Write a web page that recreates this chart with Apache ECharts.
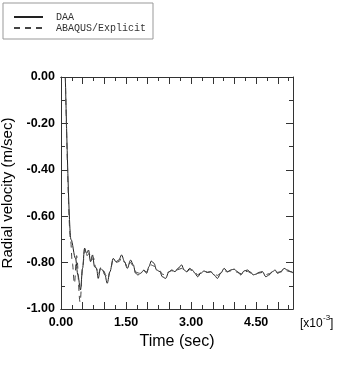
<!DOCTYPE html>
<html>
<head>
<meta charset="utf-8">
<script src="https://cdn.jsdelivr.net/npm/echarts@6/dist/echarts.min.js"></script>
<style>
html,body{margin:0;padding:0;background:#fff;}
#chart{width:349px;height:383px;}
</style>
</head>
<body>
<div id="chart"></div>
<script>
// DAA (solid)
var timeDAA = [0.10,0.23,0.335,0.389,0.45,0.497,0.543,0.589,0.635,0.681,0.727,0.774,0.82,0.858,0.912,0.958,1.012,1.066,1.128,1.205,1.266,1.335,1.397,1.466,1.528,1.605,1.667,1.72,1.774,1.836,1.913,1.974,2.028,2.082,2.144,2.205,2.282,2.336,2.413,2.49,2.552,2.629,2.698,2.783,2.837,2.898,2.967,3.029,3.09,3.152,3.222,3.299,3.376,3.453,3.53,3.607,3.684,3.761,3.838,3.915,3.992,4.069,4.146,4.223,4.3,4.377,4.431,4.492,4.569,4.646,4.723,4.8,4.877,4.938,4.992,5.069,5.146,5.223,5.3,5.35];
var velDAA = [0.0,-0.70,-0.782,-0.853,-0.918,-0.825,-0.738,-0.76,-0.746,-0.796,-0.767,-0.818,-0.825,-0.868,-0.825,-0.832,-0.853,-0.889,-0.839,-0.782,-0.796,-0.789,-0.767,-0.796,-0.825,-0.789,-0.81,-0.846,-0.853,-0.846,-0.832,-0.846,-0.818,-0.793,-0.803,-0.832,-0.839,-0.861,-0.868,-0.839,-0.832,-0.839,-0.825,-0.81,-0.832,-0.839,-0.825,-0.832,-0.846,-0.861,-0.846,-0.836,-0.842,-0.839,-0.853,-0.868,-0.846,-0.825,-0.839,-0.832,-0.828,-0.839,-0.853,-0.836,-0.832,-0.842,-0.853,-0.85,-0.842,-0.839,-0.861,-0.853,-0.839,-0.832,-0.846,-0.839,-0.825,-0.832,-0.839,-0.845];
// ABAQUS/Explicit (dashed)
var timeABQ = [0.10,0.22,0.26,0.31,0.36,0.44,0.50,0.55,0.60,0.65,0.70,0.75,0.80,0.86,0.92,0.98,1.04,1.08,1.13,1.20,1.27,1.34,1.40,1.47,1.53,1.60,1.67,1.72,1.78,1.84,1.91,1.97,2.03,2.08,2.14,2.21,2.28,2.34,2.41,2.49,2.55,2.63,2.70,2.78,2.84,2.90,2.97,3.03,3.09,3.15,3.22,3.30,3.38,3.45,3.53,3.61,3.68,3.76,3.84,3.92,3.99,4.07,4.15,4.22,4.30,4.38,4.43,4.49,4.57,4.65,4.72,4.80,4.88,4.94,4.99,5.07,5.15,5.22,5.30,5.35];
var velABQ = [0.0,-0.70,-0.80,-0.89,-0.77,-0.97,-0.82,-0.74,-0.77,-0.76,-0.79,-0.78,-0.82,-0.85,-0.82,-0.835,-0.855,-0.87,-0.84,-0.79,-0.80,-0.795,-0.78,-0.80,-0.82,-0.80,-0.815,-0.84,-0.845,-0.84,-0.835,-0.84,-0.825,-0.81,-0.815,-0.825,-0.835,-0.85,-0.855,-0.84,-0.835,-0.84,-0.83,-0.825,-0.835,-0.84,-0.83,-0.835,-0.842,-0.852,-0.845,-0.84,-0.842,-0.84,-0.848,-0.855,-0.845,-0.835,-0.84,-0.835,-0.835,-0.842,-0.848,-0.84,-0.838,-0.845,-0.848,-0.848,-0.845,-0.842,-0.852,-0.848,-0.84,-0.836,-0.842,-0.84,-0.832,-0.836,-0.84,-0.842];
var seriesNames = ['DAA', 'ABAQUS/Explicit'];
var xLabelValues = [0, 1.5, 3.0, 4.5];
var xMin = 0, xMax = 5.35;
var yMin = -1, yMax = 0;

function pairs(t, v) { return t.map(function (x, i) { return [x, v[i]]; }); }

var axisColor = '#333';
var font = 'Liberation Sans, Arial, sans-serif';

function xAx(pos, interval, len, withLabels) {
  var a = {
    type: 'value', position: pos, min: xMin, max: xMax, interval: interval,
    axisLine: { show: true, onZero: false, lineStyle: { color: axisColor, width: 1 } },
    axisTick: { show: true, inside: true, length: len, lineStyle: { color: axisColor } },
    splitLine: { show: false },
    axisLabel: { show: false }
  };
  if (withLabels) {
    a.axisLabel = {
      show: true, margin: 7, color: '#000', fontFamily: font, fontWeight: 'bold', fontSize: 12.5,
      formatter: function (v) {
        for (var i = 0; i < xLabelValues.length; i++) {
          if (Math.abs(v - xLabelValues[i]) < 1e-6) return xLabelValues[i].toFixed(2);
        }
        return '';
      }
    };
    a.name = 'Time (sec)';
    a.nameLocation = 'middle';
    a.nameGap = 21;
    a.nameTextStyle = { color: '#000', fontFamily: font, fontSize: 16 };
  }
  return a;
}
function yAx(pos, withLabels) {
  var a = {
    type: 'value', position: pos, min: yMin, max: yMax, interval: 0.2,
    axisLine: { show: true, onZero: false, lineStyle: { color: axisColor, width: 1 } },
    axisTick: { show: true, inside: true, length: 7, lineStyle: { color: axisColor } },
    minorTick: { show: true, splitNumber: 2, length: 4, lineStyle: { color: axisColor } },
    splitLine: { show: false },
    minorSplitLine: { show: false },
    axisLabel: { show: false }
  };
  if (withLabels) {
    a.axisLabel = {
      show: true, margin: 6, color: '#000', fontFamily: font, fontWeight: 'bold', fontSize: 12.5,
      formatter: function (v) { var s = Math.abs(v) < 1e-9 ? 0 : v; return s.toFixed(2); }
    };
    a.name = 'Radial velocity (m/sec)';
    a.nameLocation = 'middle';
    a.nameGap = 41;
    a.nameTextStyle = { color: '#000', fontFamily: font, fontSize: 15 };
  }
  return a;
}

var chart = echarts.init(document.getElementById('chart'), null, { renderer: 'canvas' });
chart.setOption({
  animation: false,
  backgroundColor: '#fff',
  grid: { left: 61, right: 56, top: 77, bottom: 74, containLabel: false, outerBoundsMode: 'none' },
  legend: {
    data: seriesNames,
    orient: 'vertical', left: 3, top: 3,
    backgroundColor: '#fff',
    borderColor: '#999', borderWidth: 1,
    padding: [9, 7, 6, 10],
    itemWidth: 29, itemHeight: 10, itemGap: 1,
    itemStyle: { opacity: 0 },
    textStyle: { fontFamily: 'Liberation Mono, monospace', fontSize: 10, color: '#333', padding: [0, 0, 0, 8], lineHeight: 10 }
  },
  xAxis: [xAx('bottom', 0.5, 7, true), xAx('bottom', 0.25, 4, false), xAx('top', 0.5, 7, false), xAx('top', 0.25, 4, false)],
  yAxis: [yAx('left', true), yAx('right', false)],
  graphic: [
    { type: 'text', left: 300, top: 318, style: { text: '[x10', fill: '#000', font: '12px Liberation Sans, Arial, sans-serif' } },
    { type: 'text', left: 323, top: 314, style: { text: '-3', fill: '#000', font: '8px Liberation Sans, Arial, sans-serif' } },
    { type: 'text', left: 330, top: 318, style: { text: ']', fill: '#000', font: '12px Liberation Sans, Arial, sans-serif' } }
  ],
  series: [
    {
      name: seriesNames[0], type: 'line', xAxisIndex: 0, yAxisIndex: 0,
      data: pairs(timeDAA, velDAA), symbol: 'none', showSymbol: false,
      smooth: 0.35, smoothMonotone: 'x',
      lineStyle: { color: '#222', width: 1, type: 'solid' }, itemStyle: { color: '#222' }
    },
    {
      name: seriesNames[1], type: 'line', xAxisIndex: 0, yAxisIndex: 0,
      data: pairs(timeABQ, velABQ), symbol: 'none', showSymbol: false,
      smooth: 0.35, smoothMonotone: 'x',
      lineStyle: { color: '#444', width: 1, type: [6, 5] }, itemStyle: { color: '#444' }
    }
  ]
});
</script>
</body>
</html>
